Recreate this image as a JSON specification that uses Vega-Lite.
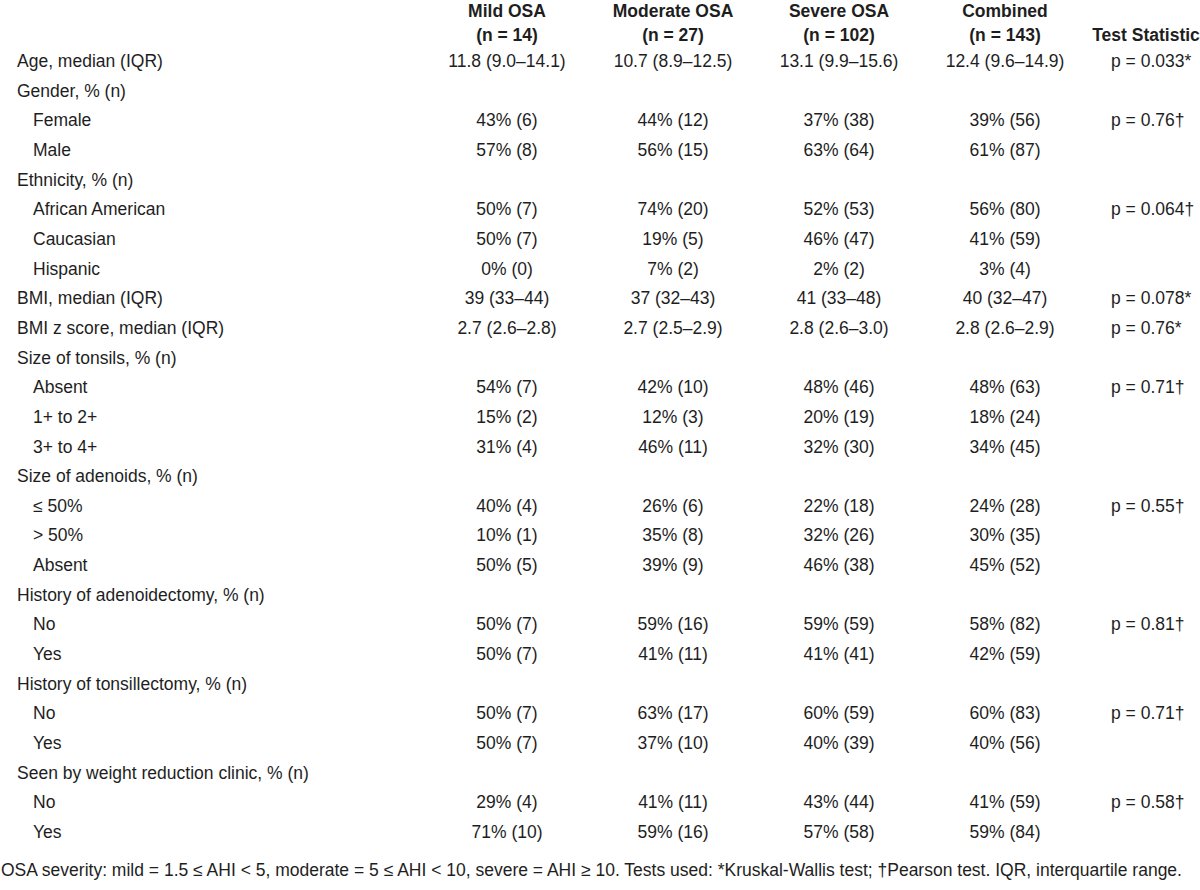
{
  "$schema": "https://vega.github.io/schema/vega-lite/v6.json",
  "width": 1200,
  "height": 890,
  "autosize": {"type": "fit", "contains": "padding"},
  "padding": 0,
  "background": "white",
  "config": {
    "view": {"stroke": null},
    "text": {"font": "Liberation Sans Narrow, Arial Narrow, Liberation Sans", "fontSize": 17.5, "color": "#1e1e1e"}
  },
  "datasets": {
    "columns": [
      {"key": "mild", "col": 1, "line1": "Mild OSA", "line2": "(n = 14)"},
      {"key": "moderate", "col": 2, "line1": "Moderate OSA", "line2": "(n = 27)"},
      {"key": "severe", "col": 3, "line1": "Severe OSA", "line2": "(n = 102)"},
      {"key": "combined", "col": 4, "line1": "Combined", "line2": "(n = 143)"},
      {"key": "test", "col": 5, "line1": "", "line2": "Test Statistic"}
    ],
    "rows": [
      {"row": 1, "sub": 0, "label": "Age, median (IQR)", "mild": "11.8 (9.0–14.1)", "moderate": "10.7 (8.9–12.5)", "severe": "13.1 (9.9–15.6)", "combined": "12.4 (9.6–14.9)", "test": "p = 0.033*"},
      {"row": 2, "sub": 0, "label": "Gender, % (n)"},
      {"row": 3, "sub": 1, "label": "Female", "mild": "43% (6)", "moderate": "44% (12)", "severe": "37% (38)", "combined": "39% (56)", "test": "p = 0.76†"},
      {"row": 4, "sub": 1, "label": "Male", "mild": "57% (8)", "moderate": "56% (15)", "severe": "63% (64)", "combined": "61% (87)"},
      {"row": 5, "sub": 0, "label": "Ethnicity, % (n)"},
      {"row": 6, "sub": 1, "label": "African American", "mild": "50% (7)", "moderate": "74% (20)", "severe": "52% (53)", "combined": "56% (80)", "test": "p = 0.064†"},
      {"row": 7, "sub": 1, "label": "Caucasian", "mild": "50% (7)", "moderate": "19% (5)", "severe": "46% (47)", "combined": "41% (59)"},
      {"row": 8, "sub": 1, "label": "Hispanic", "mild": "0% (0)", "moderate": "7% (2)", "severe": "2% (2)", "combined": "3% (4)"},
      {"row": 9, "sub": 0, "label": "BMI, median (IQR)", "mild": "39 (33–44)", "moderate": "37 (32–43)", "severe": "41 (33–48)", "combined": "40 (32–47)", "test": "p = 0.078*"},
      {"row": 10, "sub": 0, "label": "BMI z score, median (IQR)", "mild": "2.7 (2.6–2.8)", "moderate": "2.7 (2.5–2.9)", "severe": "2.8 (2.6–3.0)", "combined": "2.8 (2.6–2.9)", "test": "p = 0.76*"},
      {"row": 11, "sub": 0, "label": "Size of tonsils, % (n)"},
      {"row": 12, "sub": 1, "label": "Absent", "mild": "54% (7)", "moderate": "42% (10)", "severe": "48% (46)", "combined": "48% (63)", "test": "p = 0.71†"},
      {"row": 13, "sub": 1, "label": "1+ to 2+", "mild": "15% (2)", "moderate": "12% (3)", "severe": "20% (19)", "combined": "18% (24)"},
      {"row": 14, "sub": 1, "label": "3+ to 4+", "mild": "31% (4)", "moderate": "46% (11)", "severe": "32% (30)", "combined": "34% (45)"},
      {"row": 15, "sub": 0, "label": "Size of adenoids, % (n)"},
      {"row": 16, "sub": 1, "label": "≤ 50%", "mild": "40% (4)", "moderate": "26% (6)", "severe": "22% (18)", "combined": "24% (28)", "test": "p = 0.55†"},
      {"row": 17, "sub": 1, "label": "> 50%", "mild": "10% (1)", "moderate": "35% (8)", "severe": "32% (26)", "combined": "30% (35)"},
      {"row": 18, "sub": 1, "label": "Absent", "mild": "50% (5)", "moderate": "39% (9)", "severe": "46% (38)", "combined": "45% (52)"},
      {"row": 19, "sub": 0, "label": "History of adenoidectomy, % (n)"},
      {"row": 20, "sub": 1, "label": "No", "mild": "50% (7)", "moderate": "59% (16)", "severe": "59% (59)", "combined": "58% (82)", "test": "p = 0.81†"},
      {"row": 21, "sub": 1, "label": "Yes", "mild": "50% (7)", "moderate": "41% (11)", "severe": "41% (41)", "combined": "42% (59)"},
      {"row": 22, "sub": 0, "label": "History of tonsillectomy, % (n)"},
      {"row": 23, "sub": 1, "label": "No", "mild": "50% (7)", "moderate": "63% (17)", "severe": "60% (59)", "combined": "60% (83)", "test": "p = 0.71†"},
      {"row": 24, "sub": 1, "label": "Yes", "mild": "50% (7)", "moderate": "37% (10)", "severe": "40% (39)", "combined": "40% (56)"},
      {"row": 25, "sub": 0, "label": "Seen by weight reduction clinic, % (n)"},
      {"row": 26, "sub": 1, "label": "No", "mild": "29% (4)", "moderate": "41% (11)", "severe": "43% (44)", "combined": "41% (59)", "test": "p = 0.58†"},
      {"row": 27, "sub": 1, "label": "Yes", "mild": "71% (10)", "moderate": "59% (16)", "severe": "57% (58)", "combined": "59% (84)"}
    ],
    "notes": [
      {"row": 28, "text": "OSA severity: mild = 1.5 ≤ AHI < 5, moderate = 5 ≤ AHI < 10, severe = AHI ≥ 10. Tests used: *Kruskal-Wallis test; †Pearson test. IQR, interquartile range."}
    ]
  },
  "encoding": {
    "x": {"type": "quantitative", "axis": null, "scale": {"type": "linear", "domain": [0, 1, 4, 5], "range": [17, 507, 1005, 1146], "zero": false, "nice": false}},
    "y": {"type": "quantitative", "axis": null, "scale": {"type": "linear", "domain": [-1, 0, 1, 27, 28], "range": [12, 36, 62, 833, 871], "zero": false, "nice": false}}
  },
  "layer": [
    {
      "data": {"name": "columns"},
      "mark": {"type": "text", "align": "center", "baseline": "middle", "fontWeight": "bold"},
      "encoding": {
        "x": {"field": "col", "type": "quantitative"},
        "y": {"datum": -1, "type": "quantitative"},
        "text": {"field": "line1"}
      }
    },
    {
      "data": {"name": "columns"},
      "mark": {"type": "text", "align": "center", "baseline": "middle", "fontWeight": "bold"},
      "encoding": {
        "x": {"field": "col", "type": "quantitative"},
        "y": {"datum": 0, "type": "quantitative"},
        "text": {"field": "line2"}
      }
    },
    {
      "data": {"name": "rows"},
      "transform": [{"filter": "datum.sub == 0"}],
      "mark": {"type": "text", "align": "left", "baseline": "middle"},
      "encoding": {
        "x": {"datum": 0, "type": "quantitative"},
        "y": {"field": "row", "type": "quantitative"},
        "text": {"field": "label"}
      }
    },
    {
      "data": {"name": "rows"},
      "transform": [{"filter": "datum.sub == 1"}],
      "mark": {"type": "text", "align": "left", "baseline": "middle", "dx": 16},
      "encoding": {
        "x": {"datum": 0, "type": "quantitative"},
        "y": {"field": "row", "type": "quantitative"},
        "text": {"field": "label"}
      }
    },
    {
      "data": {"name": "rows"},
      "transform": [
        {"fold": ["mild", "moderate", "severe", "combined"], "as": ["key", "value"]},
        {"filter": "isValid(datum.value)"},
        {"lookup": "key", "from": {"data": {"name": "columns"}, "key": "key", "fields": ["col"]}}
      ],
      "mark": {"type": "text", "align": "center", "baseline": "middle"},
      "encoding": {
        "x": {"field": "col", "type": "quantitative"},
        "y": {"field": "row", "type": "quantitative"},
        "text": {"field": "value"}
      }
    },
    {
      "data": {"name": "rows"},
      "transform": [{"filter": "isValid(datum.test)"}],
      "mark": {"type": "text", "align": "left", "baseline": "middle", "dx": -35},
      "encoding": {
        "x": {"datum": 5, "type": "quantitative"},
        "y": {"field": "row", "type": "quantitative"},
        "text": {"field": "test"}
      }
    },
    {
      "data": {"name": "notes"},
      "mark": {"type": "text", "align": "left", "baseline": "middle", "dx": -16},
      "encoding": {
        "x": {"datum": 0, "type": "quantitative"},
        "y": {"field": "row", "type": "quantitative"},
        "text": {"field": "text"}
      }
    }
  ]
}
